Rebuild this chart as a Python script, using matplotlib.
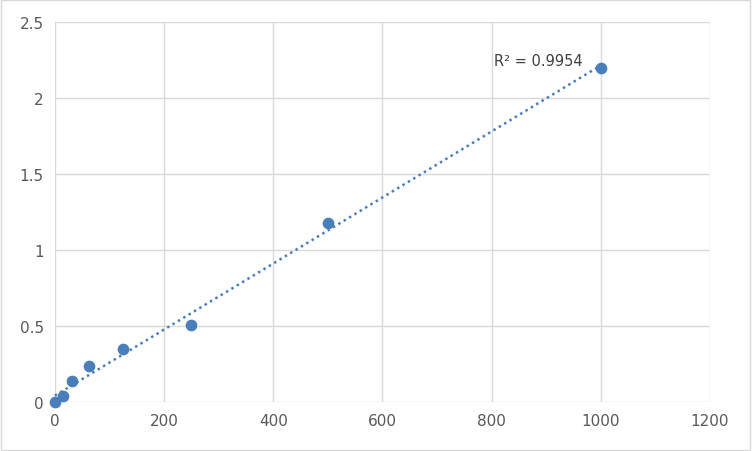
import numpy as np
import matplotlib.pyplot as plt
from matplotlib.patches import Rectangle

# standard curve data
conc = [0, 15.6, 31.25, 62.5, 125, 250, 500, 1000]
od = [0.0, 0.04, 0.14, 0.235, 0.35, 0.51, 1.18, 2.2]
r2_label = "R² = 0.9954"

fig = plt.figure(figsize=(7.52, 4.52), dpi=100, facecolor="white")
ax = fig.add_axes([0.073, 0.108, 0.871, 0.841])

# linear trendline over the data range
slope, intercept = np.polyfit(conc, od, 1)
xs = np.array([min(conc), max(conc)])
ax.plot(xs, slope * xs + intercept, linestyle=(0, (1, 1.5)), color="#4A7EBB",
        linewidth=1.8, zorder=2, clip_on=False)
ax.scatter(conc, od, s=55, color="#4A7EBB", zorder=3, clip_on=False)

ax.text(805, 2.2, r2_label, fontsize=10.5, color="#404040", ha="left", va="bottom")

ax.set_xlim(0, 1200)
ax.set_ylim(0, 2.5)
ax.set_xticks(range(0, 1201, 200))
ax.set_yticks([0, 0.5, 1, 1.5, 2, 2.5])
ax.set_yticklabels(["0", "0.5", "1", "1.5", "2", "2.5"])
ax.grid(True, color="#D9D9D9", linewidth=1)
ax.set_axisbelow(True)
for s in ax.spines.values():
    s.set_visible(False)
ax.tick_params(length=0, labelsize=11, colors="#595959", pad=8)

fig.patches.append(Rectangle((0.001, 0.002), 0.997, 0.996, transform=fig.transFigure,
                             fill=False, edgecolor="#D9D9D9", linewidth=1))

plt.savefig("out.png", dpi=100)
